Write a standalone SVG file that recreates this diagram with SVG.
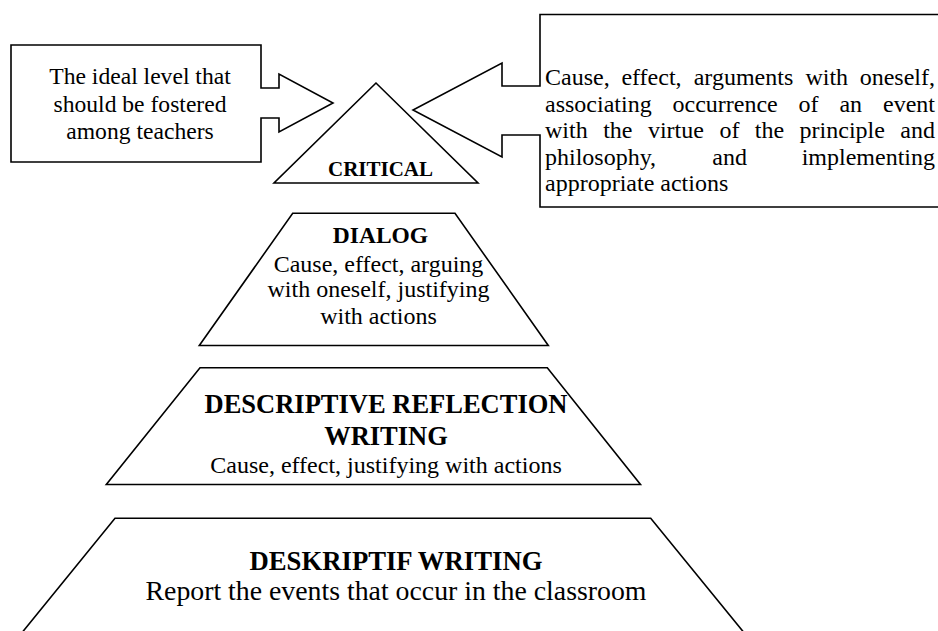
<svg xmlns="http://www.w3.org/2000/svg" width="938" height="631" viewBox="0 0 938 631">
<style>
.shape { fill: #ffffff; stroke: #000000; stroke-width: 1.6; stroke-linejoin: miter; }
.t { font-family: "Liberation Serif", "Times New Roman", serif; fill: #000000; }
.c { text-anchor: middle; }
.b { font-weight: bold; }
</style>
<rect x="0" y="0" width="938" height="631" fill="#ffffff"/>
<g id="callout-left">
  <polygon class="shape" points="11,45 261,45 261,88 279,88 279,74 333,103 279,132 279,118 261,118 261,162 11,162"/>
  <text class="t c" font-size="23.6" x="140" y="84">The ideal level that</text>
  <text class="t c" font-size="23.6" x="140" y="111.5">should be fostered</text>
  <text class="t c" font-size="23.6" x="140" y="139">among teachers</text>
</g>
<g id="callout-right">
  <polygon class="shape" points="945,14.5 540,14.5 540,86 502,86 502,63 413,110 502,157 502,135 540,135 540,207 945,207"/>
  <text class="t" font-size="24" y="85"><tspan x="545">Cause,</tspan><tspan x="621.4">effect,</tspan><tspan x="693.7">arguments</tspan><tspan x="805.4">with</tspan><tspan x="859.7">oneself,</tspan></text>
  <text class="t" font-size="24" y="111.5"><tspan x="545">associating</tspan><tspan x="672.5">occurrence</tspan><tspan x="798.6">of</tspan><tspan x="839.4">an</tspan><tspan x="883">event</tspan></text>
  <text class="t" font-size="24" y="138"><tspan x="545">with</tspan><tspan x="603.2">the</tspan><tspan x="647.9">virtue</tspan><tspan x="719.4">of</tspan><tspan x="754.8">the</tspan><tspan x="799.6">principle</tspan><tspan x="900.3">and</tspan></text>
  <text class="t" font-size="24" y="164.5"><tspan x="545">philosophy,</tspan><tspan x="712.3">and</tspan><tspan x="801.7">implementing</tspan></text>
  <text class="t" font-size="24" x="545" y="191">appropriate actions</text>
</g>
<g id="level-critical">
  <polygon class="shape" points="376,83 274,183 478,183"/>
  <text class="t c b" font-size="21" x="380.5" y="176">CRITICAL</text>
</g>
<g id="level-dialog">
  <polygon class="shape" points="292.7,213.3 455,213.3 548.3,345.5 199.3,345.5"/>
  <text class="t c b" font-size="23.5" x="380.5" y="242.7">DIALOG</text>
  <text class="t c" font-size="24" x="378.5" y="271.5">Cause, effect, arguing</text>
  <text class="t c" font-size="24" x="378.5" y="297">with oneself, justifying</text>
  <text class="t c" font-size="24" x="378.5" y="323.5">with actions</text>
</g>
<g id="level-descriptive-reflection">
  <polygon class="shape" points="200,367.7 547.3,367.7 640.5,484.5 106.3,484.5"/>
  <text class="t c b" font-size="26.5" x="386" y="413.3">DESCRIPTIVE REFLECTION</text>
  <text class="t c b" font-size="26.5" x="386" y="444.5">WRITING</text>
  <text class="t c" font-size="24" x="386" y="473">Cause, effect, justifying with actions</text>
</g>
<g id="level-deskriptif">
  <polygon class="shape" points="115,518.3 650.7,518.3 750,640 16,640"/>
  <text class="t c b" font-size="26.7" x="396" y="570">DESKRIPTIF WRITING</text>
  <text class="t c" font-size="27.8" x="396" y="600">Report the events that occur in the classroom</text>
</g>
<g id="connectors"></g>
</svg>
